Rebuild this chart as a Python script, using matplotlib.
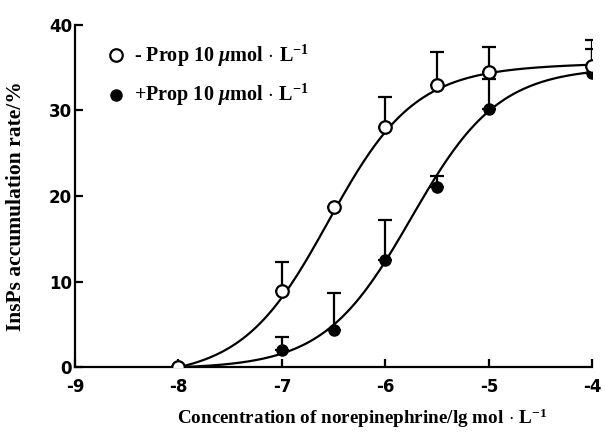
import numpy as np
import matplotlib
matplotlib.use('Agg')
import matplotlib.pyplot as plt

plt.rcParams['axes.unicode_minus'] = False
plt.rcParams['mathtext.fontset'] = 'custom'
plt.rcParams['mathtext.rm'] = 'Liberation Serif:bold'
plt.rcParams['mathtext.it'] = 'Liberation Serif:bold:italic'
plt.rcParams['mathtext.bf'] = 'Liberation Serif:bold'

# data
lg_conc = [-8, -7, -6.5, -6, -5.5, -5, -4]
minus_prop = [0.0, 8.85, 18.7, 28.0, 32.9, 34.5, 35.2]
minus_prop_err = [0.0, 3.4, 0.0, 3.5, 3.9, 2.9, 3.0]
plus_prop = [0.0, 2.0, 4.4, 12.5, 21.0, 30.1, 34.4]
plus_prop_err = [0.0, 1.5, 4.3, 4.7, 1.3, 3.5, 2.8]

# fitted sigmoid parameters (top, lg EC50, hill slope)
minus_fit = (35.4, -6.55, 1.05)
plus_fit = (35.0, -5.75, 1.03)

xlabel = 'Concentration of norepinephrine/lg mol$\\,\\cdot\\,$L$^{-1}$'
ylabel = 'InsPs accumulation rate/%'
labels = ['- Prop 10 $\\mathit{\\mu}$mol$\\,\\cdot\\,$L$^{-1}$',
          '+Prop 10 $\\mathit{\\mu}$mol$\\,\\cdot\\,$L$^{-1}$']


def hill(x, top, ec50, h):
    return top / (1 + 10 ** ((ec50 - x) * h))


fig = plt.figure(figsize=(6.05, 4.32), dpi=100)
ax = fig.add_axes([0.124, 0.150, 0.855, 0.793])

xs = np.linspace(-8, -4, 200)
for fit in (minus_fit, plus_fit):
    y = hill(xs, *fit)
    ax.plot(xs, y - y[0] * (1 - (xs + 8) / 4), color='black', lw=1.6, zorder=2)

ax.errorbar(lg_conc, plus_prop, yerr=[np.zeros(len(plus_prop)), plus_prop_err],
            fmt='o', color='black', ms=8, ecolor='black', elinewidth=1.6,
            capsize=4.7, capthick=1.6, zorder=3)
ax.errorbar(lg_conc, minus_prop, yerr=[np.zeros(len(minus_prop)), minus_prop_err],
            fmt='o', mfc='white', mec='black', mew=1.6, ms=9, ecolor='black',
            elinewidth=1.6, capsize=4.7, capthick=1.6, zorder=4)

# legend drawn by hand
ax.plot([-8.60], [36.4], 'o', mfc='white', mec='black', mew=1.6, ms=9, clip_on=False)
ax.plot([-8.60], [31.8], 'o', color='black', ms=8, clip_on=False)
ax.text(-8.43, 36.4, labels[0], fontsize=14.5, family='Liberation Serif',
        weight='bold', va='center')
ax.text(-8.43, 31.8, labels[1], fontsize=14.5, family='Liberation Serif',
        weight='bold', va='center')

ax.set_xlim(-9, -4)
ax.set_ylim(0, 40)
ax.set_xticks([-9, -8, -7, -6, -5, -4])
ax.set_yticks([0, 10, 20, 30, 40])
ax.spines['top'].set_visible(False)
ax.spines['right'].set_visible(False)
ax.spines['left'].set_linewidth(1.6)
ax.spines['bottom'].set_linewidth(1.6)
ax.tick_params(direction='in', length=6, width=1.6, pad=2)
ax.tick_params(axis='x', pad=8)
for lab in ax.get_xticklabels() + ax.get_yticklabels():
    lab.set_family('DejaVu Sans')
    lab.set_weight('bold')
    lab.set_fontsize(12)

ax.set_xlabel(xlabel, fontsize=13.8, family='Liberation Serif', weight='bold')
ax.xaxis.set_label_coords(0.555, -0.115)
ax.set_ylabel(ylabel, fontsize=15.5, family='Liberation Serif', weight='bold')
ax.yaxis.set_label_coords(-0.095, 0.47)

fig.savefig('out.png', dpi=100)
